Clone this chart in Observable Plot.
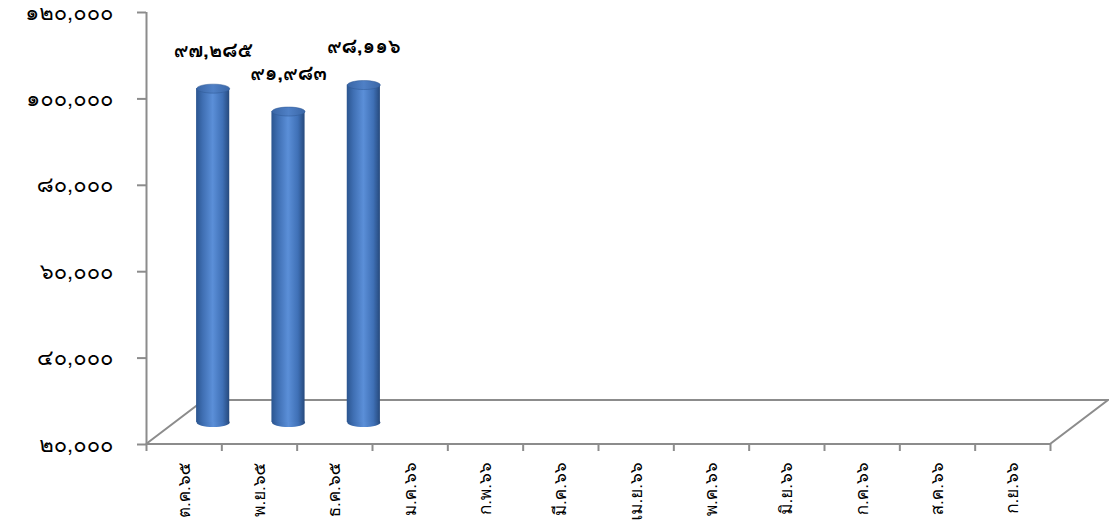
<!DOCTYPE html>
<html><head><meta charset="utf-8">
<script src="https://cdn.jsdelivr.net/npm/d3@7"></script>
<script src="https://cdn.jsdelivr.net/npm/@observablehq/plot@0.6"></script>
<style>body{margin:0;background:#fff}svg{overflow:visible}</style>
</head><body><div id="chart"></div>
<script>
const months = ["ต.ค.๖๕","พ.ย.๖๕","ธ.ค.๖๕","ม.ค.๖๖","ก.พ.๖๖","มี.ค.๖๖","เม.ย.๖๖","พ.ค.๖๖","มิ.ย.๖๖","ก.ค.๖๖","ส.ค.๖๖","ก.ย.๖๖"];
const values = [97285, 91983, 98116];
const yTicks = [20000, 40000, 60000, 80000, 100000, 120000];

const thaiDigits = "๐๑๒๓๔๕๖๗๘๙";
const toThai = s => String(s).replace(/\d/g, d => thaiDigits[+d]);
const fmt = v => toThai(d3.format(",")(v));

const data = values.map((v, i) => ({i, month: months[i], value: v}));
const yMin = yTicks[0], yMax = yTicks[yTicks.length - 1];

const depthX = 58, depthY = -44;      // 3D floor depth in px
const half = 0.22;                     // half bar width, in category units
const gray = "#8c8c8c";
const font = "Kinnari, Norasi, Laksaman, 'TH Sarabun New', Garuda, Loma, Tahoma, sans-serif";

const ellipse = (rx, ry) => ({
  draw(ctx) {
    const k = 0.5523;
    ctx.moveTo(rx, 0);
    ctx.bezierCurveTo(rx, ry * k, rx * k, ry, 0, ry);
    ctx.bezierCurveTo(-rx * k, ry, -rx, ry * k, -rx, 0);
    ctx.bezierCurveTo(-rx, -ry * k, -rx * k, -ry, 0, -ry);
    ctx.bezierCurveTo(rx * k, -ry, rx, -ry * k, rx, 0);
    ctx.closePath();
  }
});

const defs = () => {
  const ns = "http://www.w3.org/2000/svg";
  const d = document.createElementNS(ns, "defs");
  d.innerHTML = `
    <linearGradient id="cyl" x1="0" x2="1" y1="0" y2="0">
      <stop offset="0" stop-color="#2b558f"/>
      <stop offset="0.2" stop-color="#3f6fb3"/>
      <stop offset="0.5" stop-color="#5b8fd8"/>
      <stop offset="0.8" stop-color="#3f70b6"/>
      <stop offset="1" stop-color="#26497c"/>
    </linearGradient>
    <linearGradient id="capTop" x1="0" x2="1" y1="0" y2="0">
      <stop offset="0" stop-color="#3a66a6"/>
      <stop offset="0.5" stop-color="#4f80c6"/>
      <stop offset="1" stop-color="#3a66a6"/>
    </linearGradient>`;
  return d;
};

const floor = (index, {x, y}) => {
  const ns = "http://www.w3.org/2000/svg";
  const p = document.createElementNS(ns, "path");
  const x0 = x(0), x1 = x(months.length), y0 = y(yMin);
  p.setAttribute("d", `M${x0},${y0}L${x0 + depthX},${y0 + depthY}L${x1 + depthX},${y0 + depthY}L${x1},${y0}L${x0},${y0}`);
  p.setAttribute("fill", "none");
  p.setAttribute("stroke", gray);
  p.setAttribute("stroke-width", 2);
  return p;
};

const plot = Plot.plot({
  width: 1109,
  height: 524,
  marginLeft: 146,
  marginRight: 59,
  marginTop: 12,
  marginBottom: 80,
  style: {fontFamily: font, background: "#fff", color: "#000"},
  x: {type: "linear", domain: [0, months.length]},
  y: {domain: [yMin, yMax]},
  marks: [
    defs,
    floor,
    Plot.ruleX([0], {y1: yMin, y2: yMax, stroke: gray, strokeWidth: 2}),
    Plot.axisY({ticks: yTicks, tickFormat: fmt, label: null, tickSize: 9, tickPadding: 24, stroke: gray, strokeWidth: 2, fontSize: 22, fill: "#000"}),
    Plot.axisX({ticks: d3.range(months.length + 1), tickFormat: () => "", label: null, tickSize: 7, stroke: gray, strokeWidth: 2}),
    Plot.axisX({ticks: d3.range(months.length).map(i => i + 0.5), tickFormat: t => months[Math.floor(t)], label: null, tickSize: 0, tickPadding: 18, tickRotate: -90, fontSize: 17, fill: "#000"}),
    Plot.dot(data, {x: d => d.i + 0.5, y: yMin, dx: depthX / 2, dy: depthY / 2, symbol: ellipse(16.5, 4.5), fill: "url(#cyl)", stroke: "none"}),
    Plot.rectY(data, {x1: d => d.i + 0.5 - half, x2: d => d.i + 0.5 + half, y1: yMin, y2: "value", dx: depthX / 2, dy: depthY / 2, fill: "url(#cyl)"}),
    Plot.dot(data, {x: d => d.i + 0.5, y: "value", dx: depthX / 2, dy: depthY / 2, symbol: ellipse(16.5, 4.5), fill: "url(#capTop)", stroke: "#2e5894", strokeWidth: 0.5}),
    Plot.text(data, {x: d => d.i + 0.5, y: "value", text: d => fmt(d.value), dx: depthX / 2, dy: depthY / 2 - 38, fontWeight: "bold", fontSize: 20, fill: "#000"})
  ]
});
document.getElementById("chart").appendChild(plot);
</script>
</body></html>
